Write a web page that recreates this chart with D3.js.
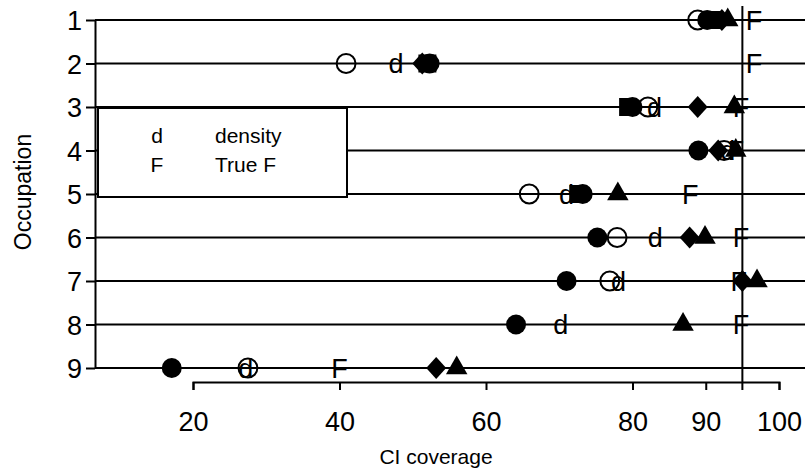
<!DOCTYPE html>
<html lang="en">
<head>
    <meta charset="UTF-8">
    <title>CI coverage by occupation</title>
    <script src="https://d3js.org/d3.v7.min.js"></script>
    <style>
        body { margin: 0; background: #fff; }
        svg text { font-family: "Liberation Sans", Arial, sans-serif; fill: #000; }
    </style>
</head>
<body>
<div id="chart"></div>
<script>
    // occupations 1..9, CI coverage (%) per method
    const occupations = [1, 2, 3, 4, 5, 6, 7, 8, 9];
    const openCircle   = [88.9, 40.9, 82.1, 92.5, 65.9, 77.9, 76.9, null, 27.5];
    const filledCircle = [90.2, 52.3, 80.0, 89.0, 73.2, 75.2, 71.0, 64.1, 17.1];
    const filledSquare = [91.0, 52.0, 79.4, null, 72.6, null, null, null, null];
    const diamond      = [92.2, 51.3, 88.9, 91.7, null, 87.8, 95.0, null, 53.2];
    const triangle     = [93.0, null, 93.9, 94.1, 78.0, 89.9, 97.0, 86.9, 56.0];
    const density      = [null, 47.7, 83.0, 93.0, 71.0, 83.1, 78.1, 70.2, 27.2];
    const trueF        = [96.6, 96.6, 94.8, 94.1, 87.9, 94.8, 94.5, 94.8, 40.0];
    const xTicks = [20, 40, 60, 80, 90, 100];
    const nominal = 95;

    const width = 809, height = 468;
    const svg = d3.select("#chart").append("svg")
        .attr("width", width)
        .attr("height", height);

    const x = d3.scaleLinear().domain([20, 100]).range([193, 779]);
    const y = d3.scaleLinear().domain([1, 9]).range([20, 368]);

    // horizontal row lines
    svg.append("g").selectAll("line")
        .data(occupations)
        .enter().append("line")
        .attr("x1", 95).attr("x2", 805)
        .attr("y1", d => y(d)).attr("y2", d => y(d))
        .attr("stroke", "#000").attr("stroke-width", 2);

    // y axis
    const yAxis = svg.append("g")
        .attr("transform", "translate(95,0)")
        .call(d3.axisLeft(y).tickValues(occupations).tickFormat(d3.format("d"))
            .tickSize(9).tickSizeOuter(0).tickPadding(4));
    yAxis.selectAll("path, line").attr("stroke", "#000").attr("stroke-width", 2);
    yAxis.selectAll("text").style("font-size", "27px").attr("dy", "0.36em");

    // x axis
    const xAxis = svg.append("g")
        .attr("transform", "translate(0,382)")
        .call(d3.axisBottom(x).tickValues(xTicks).tickSize(8).tickSizeOuter(8).tickPadding(22));
    xAxis.selectAll("path, line").attr("stroke", "#000").attr("stroke-width", 2);
    xAxis.selectAll("text").style("font-size", "27px");

    // markers
    const diamondShape = {
        draw(ctx) {
            ctx.moveTo(0, -11); ctx.lineTo(10, 0); ctx.lineTo(0, 11); ctx.lineTo(-10, 0); ctx.closePath();
        }
    };
    const pts = arr => occupations.map((o, i) => ({ o: o, v: arr[i] })).filter(d => d.v != null);

    function symbols(arr, type, size, fill, stroke) {
        svg.append("g").selectAll("path")
            .data(pts(arr))
            .enter().append("path")
            .attr("transform", d => `translate(${x(d.v)},${y(d.o)})`)
            .attr("d", d3.symbol().type(type).size(size))
            .attr("fill", fill)
            .attr("stroke", stroke)
            .attr("stroke-width", 2);
    }
    function letters(arr, label) {
        svg.append("g").selectAll("text")
            .data(pts(arr))
            .enter().append("text")
            .attr("x", d => x(d.v))
            .attr("y", d => y(d.o))
            .attr("dy", "0.36em")
            .attr("text-anchor", "middle")
            .style("font-size", "27px")
            .text(label);
    }

    // letters sit underneath the filled symbols
    letters(density, "d");
    letters(trueF, "F");
    symbols(openCircle, d3.symbolCircle, 280, "none", "#000");
    symbols(filledSquare, d3.symbolSquare, 324, "#000", "none");
    symbols(filledCircle, d3.symbolCircle, 314, "#000", "none");
    symbols(diamond, diamondShape, 0, "#000", "none");
    symbols(triangle, d3.symbolTriangle, 200, "#000", "none");

    // nominal coverage line
    svg.append("line")
        .attr("x1", x(nominal)).attr("x2", x(nominal))
        .attr("y1", 6).attr("y2", 390)
        .attr("stroke", "#000").attr("stroke-width", 2);

    // legend
    const legend = svg.append("g");
    legend.append("rect")
        .attr("x", 98).attr("y", 108)
        .attr("width", 249).attr("height", 89)
        .attr("fill", "#fff").attr("stroke", "#000").attr("stroke-width", 2);
    const legendItems = [["d", "density"], ["F", "True F"]];
    legendItems.forEach((item, i) => {
        legend.append("text")
            .attr("x", 157).attr("y", 143 + i * 29)
            .attr("text-anchor", "middle")
            .style("font-size", "21px")
            .text(item[0]);
        legend.append("text")
            .attr("x", 215).attr("y", 143 + i * 29)
            .style("font-size", "21px")
            .text(item[1]);
    });

    // axis titles
    svg.append("text")
        .attr("x", 436).attr("y", 464)
        .attr("text-anchor", "middle")
        .style("font-size", "21px")
        .text("CI coverage");
    svg.append("text")
        .attr("transform", "translate(31,192) rotate(-90)")
        .attr("text-anchor", "middle")
        .style("font-size", "23px")
        .text("Occupation");
</script>
</body>
</html>
